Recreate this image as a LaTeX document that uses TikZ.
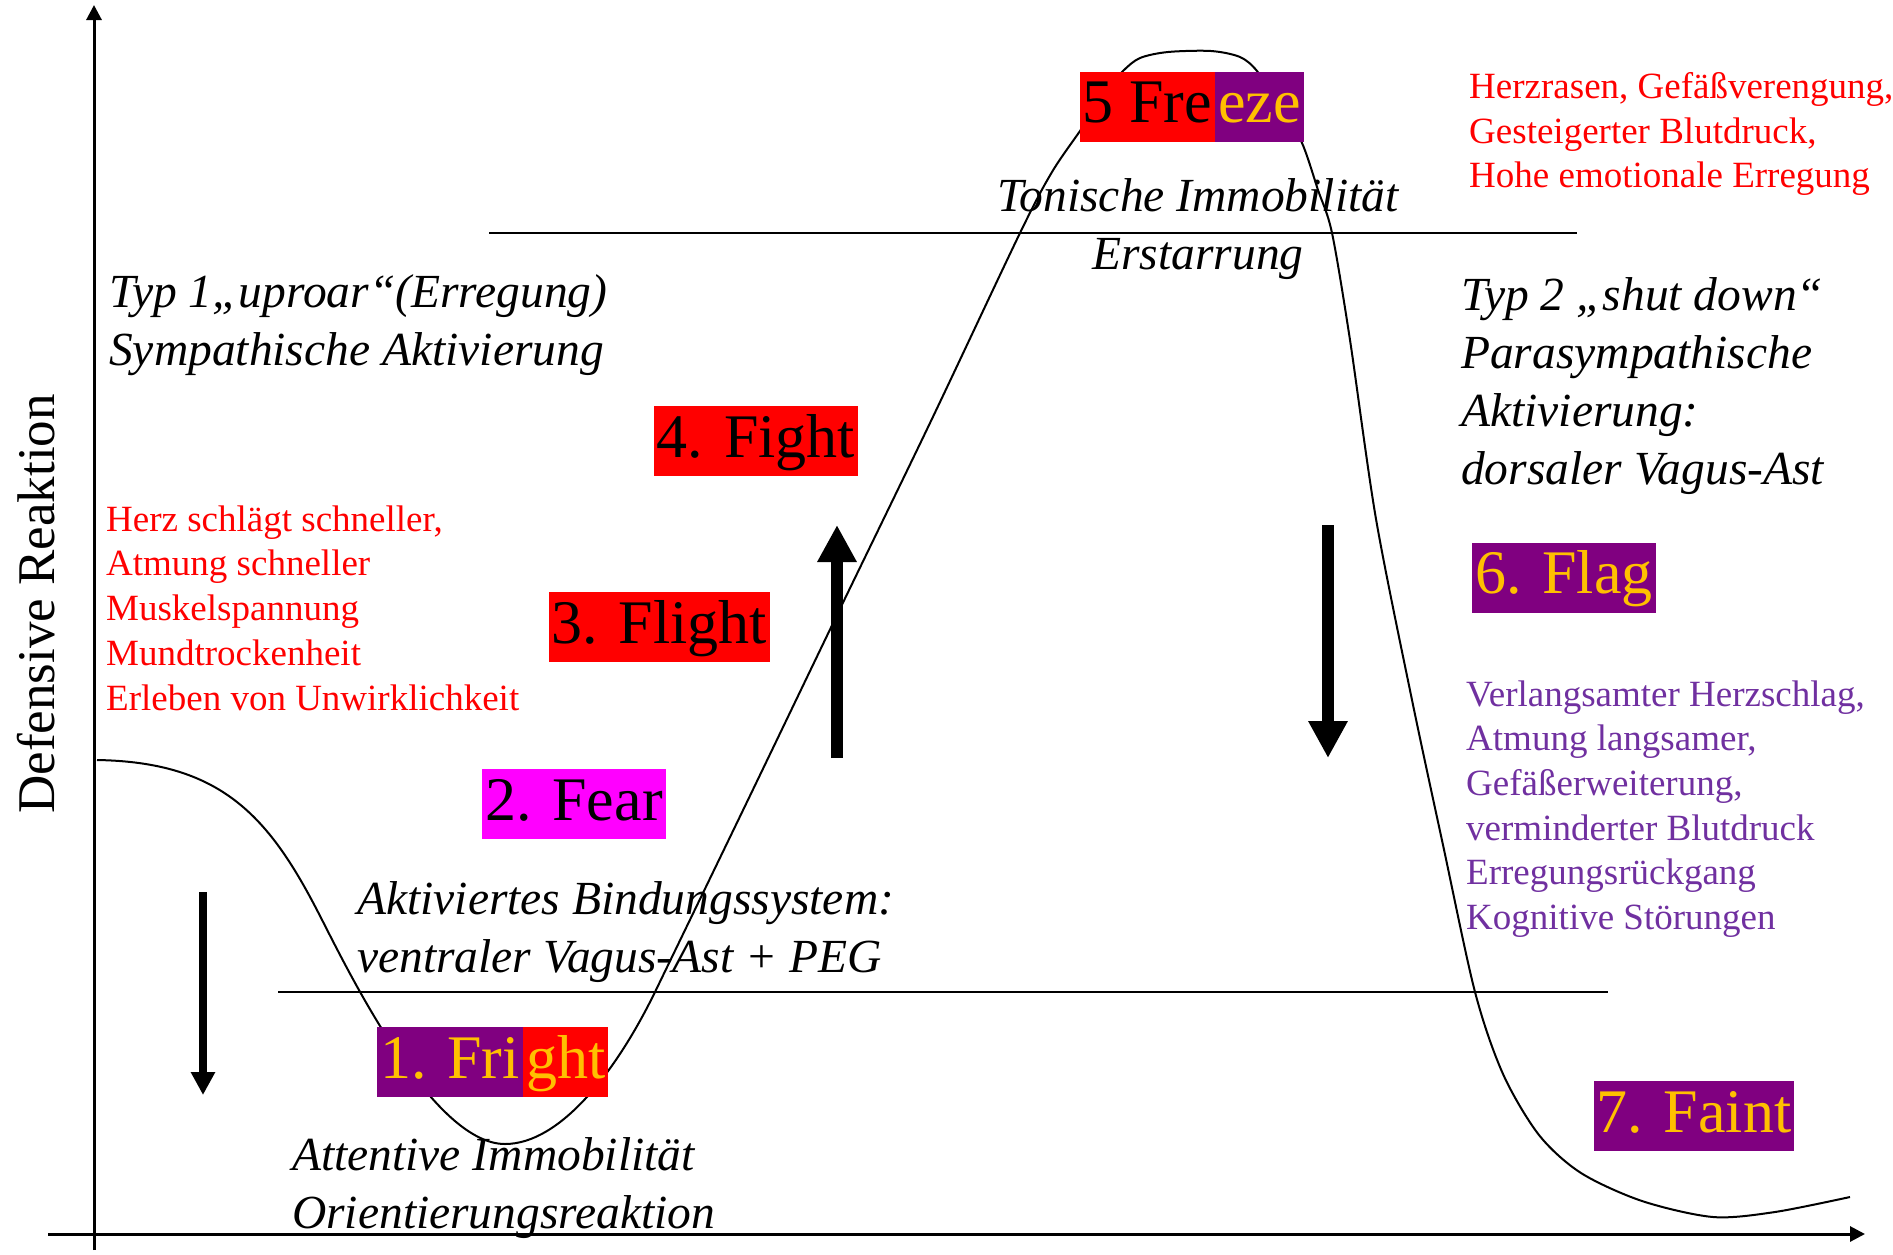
\documentclass[tikz,border=0pt]{standalone}
\usepackage{fontspec}
\setmainfont{Liberation Serif}
\usetikzlibrary{arrows.meta,positioning}
\definecolor{alarmred}{RGB}{255,0,0}
\definecolor{stagepurple}{RGB}{128,0,128}
\definecolor{stageorange}{RGB}{255,192,0}
\definecolor{fearpink}{RGB}{255,0,255}
\definecolor{calmviolet}{RGB}{112,48,160}
\tikzset{
  stagebox/.style={inner xsep=3pt,inner ysep=5pt,text height=46pt,text depth=14pt,
                   font=\fontsize{62}{72}\selectfont},
  phasetext/.style={inner sep=0pt,align=left,anchor=west,
                    font=\fontsize{47.5}{58}\selectfont\itshape},
  signtext/.style={inner sep=0pt,align=left,anchor=west,
                   font=\fontsize{37}{44.7}\selectfont},
  bigarrow/.style={line width=12pt,-{Triangle[width=37pt,length=37pt]}},
}

\begin{document}
\begin{tikzpicture}[x=1pt,y=-1pt]
  \useasboundingbox (0,0) rectangle (1893,1254);
  % axes
  \coordinate (origin) at (94,1250);
  \coordinate (ytop) at (94,5);
  \coordinate (xleft) at (48,1234);
  \coordinate (xright) at (1865,1234);
  \draw[line width=3pt,-{Triangle[width=15pt,length=15pt]}] (origin) -- (ytop);
  \draw[line width=3pt,-{Triangle[width=15pt,length=15pt]}] (xleft) -- (xright);
  \node[rotate=90,font=\fontsize{53}{60}\selectfont] (ylabel) at (36,604) {Defensive Reaktion};

  % level lines
  \coordinate (lowA) at (278,992);
  \coordinate (lowB) at (1608,992);
  \coordinate (highA) at (489,233);
  \coordinate (highB) at (1577,233);
  \draw[line width=1.8pt] (lowA) -- (lowB);
  \draw[line width=1.8pt] (highA) -- (highB);

  % response curve
  \draw[line width=2pt] (97,760) .. controls (220,762) and (268,815) .. (318,912)
    .. controls (343,960) and (430,1144) .. (505,1144)
    .. controls (560,1144) and (616,1072) .. (655,992)
    -- plot[smooth,tension=0.5] coordinates {
    (655,992) (746,804) (837,615) (930,423) (1020,233) (1052,172)
    (1082,128) (1105,92) (1123,71) (1140,58) (1168,52) (1211,51)
    (1240,57) (1257,71) (1280,105) (1302,143) (1318,190) (1332,233)
    (1350,340) (1376,519) (1412,700) (1443,845) (1475,992) (1503,1074)
    (1539,1135) (1581,1173) (1642,1201) (1713,1217) (1775,1212) (1850,1197)};

  % thick arrows
  \coordinate (riseS) at (837,758);
  \coordinate (riseE) at (837,525);
  \coordinate (dropS) at (1328,525);
  \coordinate (dropE) at (1328,758);
  \coordinate (sinkS) at (203,892);
  \coordinate (sinkE) at (203,1095);
  \draw[bigarrow] (riseS) -- (riseE);
  \draw[bigarrow] (dropS) -- (dropE);
  \draw[line width=8pt,-{Triangle[width=23pt,length=23pt]}] (sinkS) -- (sinkE);

  % stages
  \node[stagebox,fill=stagepurple,anchor=east] (frightL) at (523,1062)
    {\textcolor{stageorange}{1. Fri}};
  \node[stagebox,fill=alarmred,anchor=west] (frightR) at (frightL.east)
    {\textcolor{stageorange}{ght}};
  \node[stagebox,fill=fearpink] (fear) at (574,804) {2. Fear};
  \node[stagebox,fill=alarmred] (flight) at (659.5,627) {3. Flight};
  \node[stagebox,fill=alarmred] (fight) at (756,441) {4. Fight};
  \node[stagebox,fill=alarmred,anchor=east] (freezeL) at (1215,106.5) {5 Fre};
  \node[stagebox,fill=stagepurple,anchor=west] (freezeR) at (freezeL.east)
    {\textcolor{stageorange}{eze}};
  \node[stagebox,fill=stagepurple] (flag) at (1564,577.5) {\textcolor{stageorange}{6. Flag}};
  \node[stagebox,fill=stagepurple] (faint) at (1694,1116) {\textcolor{stageorange}{7. Faint}};

  % phase descriptions
  \node[phasetext] (uproar) at (109,325)
    {Typ 1„uproar“(Erregung)\\Sympathische Aktivierung};
  \node[phasetext,align=center,anchor=center] (tonic) at (1198,229)
    {Tonische Immobilität\\Erstarrung};
  \node[phasetext] (shutdown) at (1461,386)
    {Typ 2 „shut down“\\Parasympathische\\Aktivierung:\\dorsaler Vagus-Ast};
  \node[phasetext] (bonding) at (357,932)
    {Aktiviertes Bindungssystem:\\ventraler Vagus-Ast + PEG};
  \node[phasetext] (attentive) at (292,1188)
    {Attentive Immobilität\\Orientierungsreaktion};

  % body signs
  \node[signtext,text=alarmred] (sympsigns) at (106,608)
    {Herz schlägt schneller,\\Atmung schneller\\Muskelspannung\\Mundtrockenheit\\Erleben von Unwirklichkeit};
  \node[signtext,text=alarmred] (freezesigns) at (1469,134)
    {Herzrasen, Gefäßverengung,\\Gesteigerter Blutdruck,\\Hohe emotionale Erregung};
  \node[signtext,text=calmviolet] (vagalsigns) at (1466,809)
    {Verlangsamter Herzschlag,\\Atmung langsamer,\\Gefäßerweiterung,\\verminderter Blutdruck\\Erregungsrückgang\\Kognitive Störungen};
\end{tikzpicture}
\end{document}
